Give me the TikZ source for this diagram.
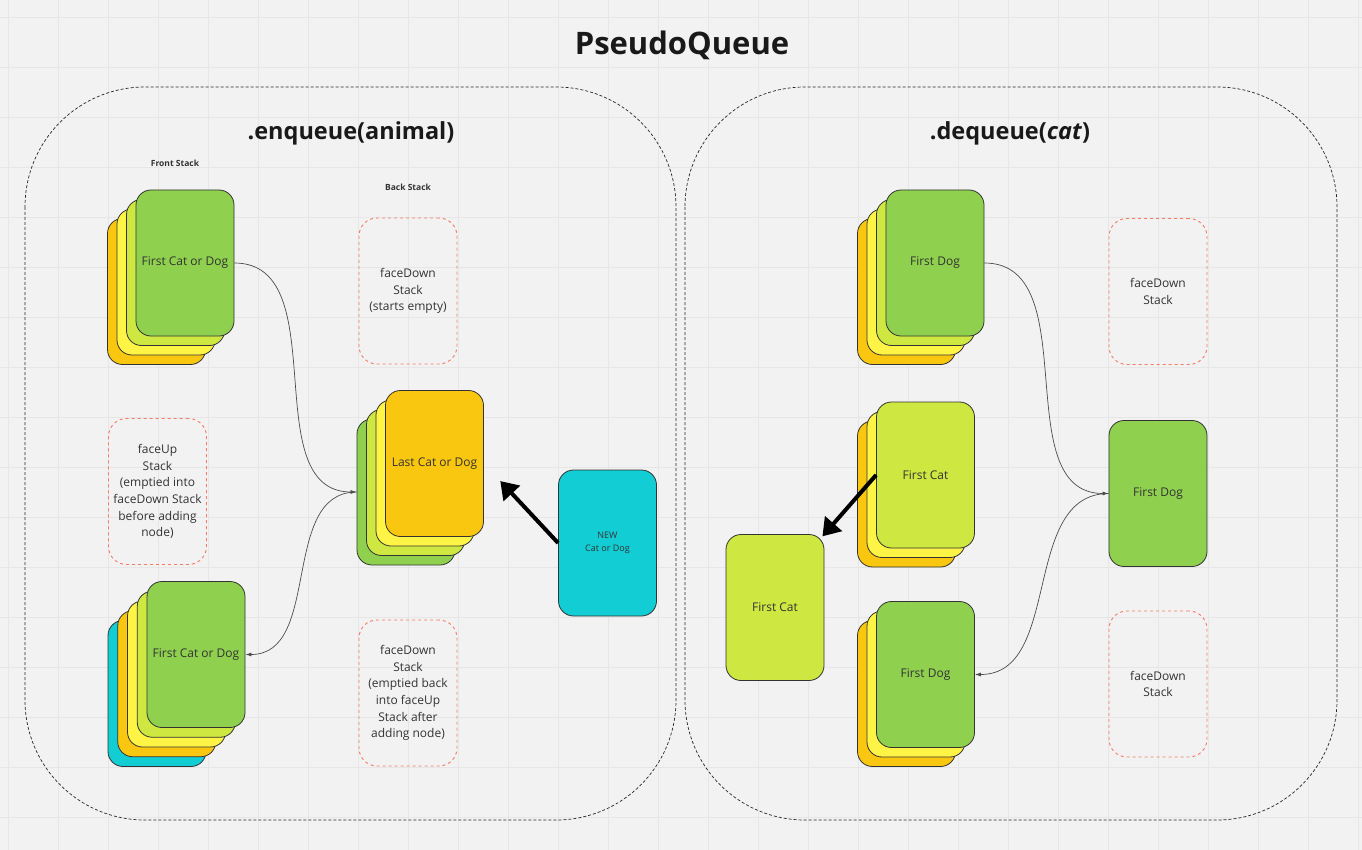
\documentclass[tikz,border=0pt]{standalone}
\usepackage{fontspec}
\setmainfont{Open Sans}
\usetikzlibrary{arrows.meta,positioning}

\definecolor{bgcol}{HTML}{F2F2F2}
\definecolor{gridcol}{HTML}{E6E6E6}
\definecolor{cgreen}{HTML}{8FD14F}
\definecolor{clime}{HTML}{CEE741}
\definecolor{cyellow}{HTML}{FEF445}
\definecolor{corange}{HTML}{FAC710}
\definecolor{ccyan}{HTML}{12CDD4}
\definecolor{cdash}{HTML}{F47A64}
\definecolor{ctext}{HTML}{333333}

\tikzstyle{card} = [
  rectangle, draw=black!80, line width=0.8pt, rounded corners=15pt,
  minimum width=98pt, minimum height=146pt, inner sep=2pt,
  text=ctext, align=center, font=\fontsize{12}{16}\selectfont
]
\tikzstyle{emptystack} = [
  rectangle, draw=cdash, dash pattern=on 3pt off 3pt, line width=0.9pt,
  rounded corners=18pt, minimum width=98pt, minimum height=146pt,
  inner sep=2pt, text=ctext, align=center, font=\fontsize{12}{16.7}\selectfont
]
\tikzstyle{panel} = [
  draw=black!85, dash pattern=on 3pt off 2pt, line width=0.7pt,
  rounded corners=120pt
]
\tikzstyle{heading} = [text=black!90, font=\fontsize{23.5}{28}\selectfont\bfseries]
\tikzstyle{smalllabel} = [text=ctext, font=\fontsize{8.5}{10}\selectfont\bfseries]
\tikzstyle{conn} = [draw=black!70, line width=0.7pt, -{Latex[length=6pt,width=4pt]}]
\tikzstyle{bigarrow} = [line width=4pt, -{Triangle[length=17pt,width=22pt]}]

\begin{document}
\begin{tikzpicture}[x=1pt, y=-1pt]
    \useasboundingbox (0,0) rectangle (1362,850);
    \fill[bgcol] (0,0) rectangle (1362,850);
    \foreach \gx in {8,58,...,1358} \draw[gridcol, line width=0.8pt] (\gx,0) -- (\gx,850);
    \foreach \gy in {17,67,...,817} \draw[gridcol, line width=0.8pt] (0,\gy) -- (1362,\gy);

    \draw[panel] (25,87) rectangle (676,820);
    \draw[panel] (685,87) rectangle (1337,820);

    \node[text=black!90, font=\fontsize{31}{36}\selectfont\bfseries] (title) at (682,45) {PseudoQueue};
    \node[heading] (enq) at (351,133) {.enqueue(animal)};
    \node[heading] (deq) at (1010,133) {.dequeue(\textit{cat})};
    \node[smalllabel] (frontlbl) at (175,163) {Front Stack};
    \node[smalllabel] (backlbl) at (408,187) {Back Stack};

    % enqueue side
    \node[card, fill=corange] (ltop3) at (156.5,291.5) {};
    \node[card, fill=cyellow] (ltop2) at (166,282) {};
    \node[card, fill=clime] (ltop1) at (175.5,272.5) {};
    \node[card, fill=cgreen] (ltop) at (185,263) {First Cat or Dog};

    \node[emptystack] (lback) at (408,291) {faceDown\\Stack\\(starts empty)};
    \node[emptystack] (lup) at (157.5,491.5) {faceUp\\Stack\\(emptied into\\faceDown Stack\\before adding\\node)};
    \node[emptystack] (ldown) at (408,693) {faceDown\\Stack\\(emptied back\\into faceUp\\Stack after\\adding node)};

    \node[card, fill=cgreen] (lmid3) at (406,492) {};
    \node[card, fill=clime] (lmid2) at (415.5,482.5) {};
    \node[card, fill=cyellow] (lmid1) at (425,473) {};
    \node[card, fill=corange] (lmid) at (434.5,463.5) {Last Cat or Dog};

    \node[card, fill=ccyan, font=\fontsize{9}{13}\selectfont] (newcard) at (607.5,543) {NEW\\Cat or Dog};

    \node[card, fill=ccyan] (lbot4) at (157,693.5) {};
    \node[card, fill=corange] (lbot3) at (166.75,683.75) {};
    \node[card, fill=cyellow] (lbot2) at (176.5,674) {};
    \node[card, fill=clime] (lbot1) at (186.25,664.25) {};
    \node[card, fill=cgreen] (lbot) at (196,654.5) {First Cat or Dog};

    \draw[conn] (ltop.east) to[out=0, in=180] (lmid3.west);
    \draw[conn] (lmid3.west) to[out=180, in=0] (lbot.east);
    \draw[bigarrow, shorten >=24pt] (newcard.west) -- (lmid.east);

    % dequeue side
    \node[card, fill=corange] (rtop3) at (906.5,291.5) {};
    \node[card, fill=cyellow] (rtop2) at (916,282) {};
    \node[card, fill=clime] (rtop1) at (925.5,272.5) {};
    \node[card, fill=cgreen] (rtop) at (935,263) {First Dog};

    \node[emptystack] (rback) at (1158,291.5) {faceDown\\Stack};
    \node[emptystack] (rdown) at (1158,684) {faceDown\\Stack};

    \node[card, fill=corange] (rmid2) at (906.5,494) {};
    \node[card, fill=cyellow] (rmid1) at (916,484.5) {};
    \node[card, fill=clime] (rmid) at (925.5,475) {First Cat};

    \node[card, fill=clime] (rcat) at (775,607.5) {First Cat};

    \node[card, fill=corange] (rbot2) at (906.5,693.5) {};
    \node[card, fill=cyellow] (rbot1) at (916,684) {};
    \node[card, fill=cgreen] (rbot) at (925.5,674.5) {First Dog};

    \node[card, fill=cgreen] (rdog) at (1158,493.5) {First Dog};

    \draw[conn] (rtop.east) to[out=0, in=180] (rdog.west);
    \draw[conn] (rdog.west) to[out=180, in=0] (rbot.east);
    \draw[bigarrow, shorten >=-3pt] (rmid.west) -- (rcat.north east);
\end{tikzpicture}
\end{document}
